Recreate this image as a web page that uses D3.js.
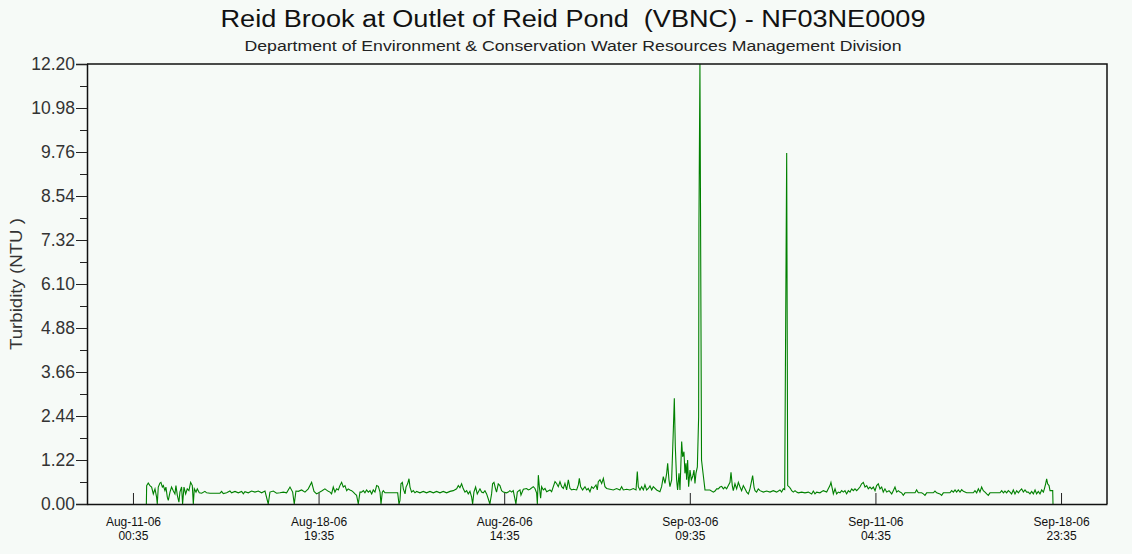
<!DOCTYPE html>
<html lang="en">

<head>
    <meta charset="UTF-8">
    <title>Reid Brook Turbidity</title>
    <script src="https://d3js.org/d3.v7.min.js"></script>
    <style>
    body {
        margin: 0;
        background: #f6faf7;
    }

    text {
        font-family: "Liberation Sans", Arial, sans-serif;
    }
    </style>
</head>

<body>
    <div class="content"></div>
    <script>
    // ---- data ----
    var title = "Reid Brook at Outlet of Reid Pond  (VBNC) - NF03NE0009";
    var subtitle = "Department of Environment & Conservation Water Resources Management Division";
    var yLabel = "Turbidity (NTU )";

    // y axis labelled every 1.22 NTU
    var yMajor = [0, 1.22, 2.44, 3.66, 4.88, 6.10, 7.32, 8.54, 9.76, 10.98, 12.20];
    var yMinor = [0.61, 1.83, 3.05, 4.27, 5.49, 6.71, 7.93, 9.15, 10.37, 11.59];

    var xTicks = ["2006-08-11 00:35", "2006-08-18 19:35", "2006-08-26 14:35",
        "2006-09-03 09:35", "2006-09-11 04:35", "2006-09-18 23:35"];

    // [hours after Aug-11-06 00:35, turbidity NTU]
    var readings = [
        [13.5, 0], [13.8, 0.51], [15.4, 0.58], [17.1, 0.51], [18.8, 0.47], [20.5, 0.28], [22.2, 0.42], [23.8, 0.19],
        [24.5, 0], [25.5, 0.47], [27.2, 0.58], [28.2, 0.60], [29.6, 0.47], [30.6, 0.51], [32.2, 0.37], [33.2, 0.47],
        [34.6, 0.19], [35.6, 0.10], [37.3, 0.33], [38.9, 0.47], [40.6, 0.37], [42.3, 0.28], [43.3, 0.51], [44.7, 0.24],
        [46.3, 0.05], [47.3, 0.33], [49.0, 0.47], [50.0, 0], [51.4, 0.47], [53.1, 0.28], [54.7, 0.42], [56.4, 0.37],
        [58.1, 0.60], [59.8, 0.51], [60.8, 0], [61.8, 0.42], [63.5, 0.33], [64.8, 0.42], [66.8, 0.31], [69.2, 0.30],
        [72.5, 0.35], [74.2, 0.31], [77.6, 0.30], [87.7, 0.30], [89.3, 0.35], [91.0, 0.29], [94.4, 0.31], [97.7, 0.36],
        [99.4, 0.31], [102.8, 0.35], [106.1, 0.31], [109.5, 0.35], [111.2, 0.28], [112.8, 0.34], [116.2, 0.31],
        [119.5, 0.36], [122.9, 0.33], [126.3, 0.36], [129.6, 0.31], [133.0, 0.36], [136.3, 0], [138.0, 0.33],
        [141.4, 0.36], [144.7, 0.30], [148.1, 0.31], [151.5, 0.33], [154.8, 0.31], [158.2, 0.47], [160.9, 0.33],
        [162.5, 0], [164.2, 0.36], [166.6, 0.35], [169.9, 0.39], [173.3, 0.33], [176.6, 0.42], [180.0, 0.60],
        [182.4, 0.35], [185.0, 0.28], [190.1, 0.36], [193.4, 0.42], [196.8, 0.35],

        [198.5, 0.33], [200.1, 0.28], [201.8, 0.47], [203.5, 0.33], [205.2, 0.42], [206.9, 0.39], [208.5, 0.51],
        [210.2, 0.60], [211.9, 0.47], [213.6, 0.51], [215.3, 0.37], [216.9, 0.42], [218.6, 0.39], [220.3, 0.37],
        [222.0, 0.33], [223.7, 0.28], [225.3, 0.24], [227.0, 0], [228.7, 0.33], [230.4, 0.33], [232.1, 0.37],
        [233.7, 0.31], [235.4, 0.39], [237.1, 0.33], [238.8, 0.37], [240.5, 0.28], [242.1, 0.39], [243.8, 0.33],
        [245.5, 0.51], [247.2, 0.49], [248.9, 0.33], [249.9, 0], [251.2, 0.33], [252.2, 0.37], [253.9, 0.31],
        [257.3, 0.31], [260.6, 0.31], [264.0, 0.31], [266.7, 0.31], [268.0, 0], [269.0, 0.10], [270.0, 0.56],
        [271.4, 0.60], [272.4, 0.42], [274.1, 0.28], [275.1, 0.47], [276.7, 0.56], [278.1, 0.70], [279.1, 0.47],
        [280.7, 0.33], [282.4, 0.37], [284.1, 0.31], [285.8, 0.35], [289.1, 0.31], [292.5, 0.35], [295.8, 0.31],
        [299.2, 0.35], [302.6, 0.31], [305.9, 0.35], [309.3, 0.31], [312.6, 0.35], [316.0, 0.31], [319.4, 0.35],
        [322.7, 0.37], [326.1, 0.42], [327.8, 0.51], [329.4, 0.45], [331.1, 0.56], [332.8, 0.42], [334.5, 0.33],
        [336.2, 0.37], [337.8, 0.28], [339.5, 0.35], [341.2, 0.19], [342.2, 0], [343.5, 0.33], [345.2, 0.47],
        [346.9, 0.28], [347.9, 0.33], [349.6, 0.42], [351.2, 0.33], [352.9, 0.31], [354.6, 0.37], [356.3, 0.28],
        [358.0, 0.14], [359.6, 0], [361.3, 0.28], [362.3, 0.56], [363.7, 0.60], [365.3, 0.42], [366.3, 0.33],
        [368.0, 0.56], [369.7, 0.51], [371.4, 0.37], [373.1, 0.33], [376.4, 0.31], [378.1, 0.33], [379.8, 0.37],
        [381.5, 0.33], [383.1, 0.37], [384.8, 0.14], [385.8, 0], [387.2, 0.33], [388.8, 0.37],

        [389.9, 0.39], [390.9, 0.25], [393.3, 0.41], [396.6, 0.43], [398.3, 0.39], [400.0, 0.41], [403.3, 0.48],
        [405.0, 0.43], [406.7, 0.30], [407.4, 0], [408.4, 0.80], [409.4, 0.48], [410.7, 0.16], [411.7, 0.48],
        [413.4, 0.39], [415.1, 0.43], [416.8, 0.34], [420.1, 0.39], [421.8, 0.34], [423.5, 0.48], [425.2, 0.62],
        [426.8, 0.57], [428.5, 0.48], [430.2, 0.62], [431.9, 0.48], [433.6, 0.43], [435.2, 0.57], [436.9, 0.39],
        [438.6, 0.67], [440.3, 0.43], [442.0, 0.39], [443.6, 0.41], [447.0, 0.39], [448.7, 0.53], [449.7, 0.71],
        [451.0, 0.48], [453.0, 0.39], [455.4, 0.48], [457.1, 0.39], [458.7, 0.43], [460.4, 0.34], [462.1, 0.48],
        [463.8, 0.43], [466.5, 0.53], [467.8, 0.39], [468.8, 0.62], [470.5, 0.67], [472.2, 0.57], [473.9, 0.71],
        [475.5, 0.48], [477.2, 0.43], [480.6, 0.41], [483.9, 0.39], [487.3, 0.43], [490.6, 0.39], [492.3, 0.48],
        [494.0, 0.39], [497.4, 0.41], [500.7, 0.39], [504.1, 0.43], [506.8, 0.39], [508.1, 0.90], [509.1, 0.48],
        [510.8, 0.39], [512.5, 0.48], [514.2, 0.39], [515.8, 0.53], [517.5, 0.39], [519.2, 0.43], [520.9, 0.50],
        [522.6, 0.39], [524.2, 0.48], [527.6, 0.39], [530.9, 0.34], [532.6, 0.48], [534.3, 0.76], [536.0, 0.57],
        [537.7, 0.85], [538.7, 1.13], [540.0, 0.67], [541.0, 0.48], [542.7, 0.67], [544.4, 2.05], [545.4, 2.93],
        [546.4, 1.59], [547.7, 0.67], [548.7, 0.39], [550.1, 0.85], [551.1, 0.39], [552.8, 1.73], [553.8, 1.31],
        [555.1, 1.45], [556.1, 0.85], [557.1, 1.13], [557.8, 0.67], [558.8, 1.22], [559.8, 0.48], [561.2, 0.94],
        [562.5, 0.67], [563.9, 0.76], [565.2, 0.94], [566.2, 0.57], [567.2, 0.85], [568.6, 1.03], [569.9, 2.42],
        [570.2, 7.73], [571.2, 12.2], [572.8, 1.22], [574.3, 0.86], [576.3, 0.39],

        [578.0, 0.39], [581.3, 0.39], [584.7, 0.33], [586.4, 0.36], [588.0, 0.42], [589.7, 0.42], [591.4, 0.47],
        [593.1, 0.49], [594.8, 0.42], [596.4, 0.47], [598.1, 0.42], [599.8, 0.51], [601.5, 0.60], [602.5, 0.88],
        [603.8, 0.51], [604.8, 0.37], [606.5, 0.56], [608.2, 0.42], [609.9, 0.60], [611.6, 0.47], [613.2, 0.37],
        [614.9, 0.51], [616.6, 0.42], [618.3, 0.33], [620.0, 0.28], [621.6, 0.42], [623.3, 0.65], [624.3, 0.79],
        [625.7, 0.47], [626.7, 0.37], [628.3, 0.33], [630.0, 0.42], [631.7, 0.37], [635.1, 0.33], [638.4, 0.36],
        [641.8, 0.33], [645.1, 0.37], [648.5, 0.33], [651.8, 0.39], [653.5, 0.33], [655.2, 0.42], [656.6, 0.40],
        [657.6, 5.10], [658.6, 9.73], [659.6, 0.51], [661.3, 0.47], [662.6, 0.42], [663.6, 0.37], [665.3, 0.33],
        [667.0, 0.37], [668.6, 0.33], [670.3, 0.31], [673.7, 0.33], [677.0, 0.31], [680.4, 0.33], [683.8, 0.28],
        [685.4, 0.36], [687.1, 0.28], [688.8, 0.33], [692.1, 0.31], [695.5, 0.37], [698.9, 0.33], [700.5, 0.42],
        [702.2, 0.51], [703.2, 0.60], [704.6, 0.42], [705.6, 0.28], [707.3, 0.42], [708.9, 0.28], [710.6, 0.33],
        [712.3, 0.31], [714.0, 0.37], [715.7, 0.33], [717.3, 0.37], [719.0, 0.28], [720.7, 0.37], [722.4, 0.33],
        [724.1, 0.42], [725.7, 0.37], [727.4, 0.42], [729.1, 0.37], [730.8, 0.42], [732.4, 0.47], [734.1, 0.56],
        [735.8, 0.60], [737.5, 0.47], [739.2, 0.51], [740.8, 0.42], [742.5, 0.47], [744.2, 0.42], [745.9, 0.47],
        [747.6, 0.37], [749.2, 0.51], [750.9, 0.56], [752.6, 0.42], [754.3, 0.47], [755.9, 0.33], [757.6, 0.42],
        [759.3, 0.33], [761.7, 0.37],

        [764.4, 0.28], [766.0, 0.37], [767.7, 0.47], [769.4, 0.33], [771.1, 0.37], [772.7, 0.33], [774.4, 0.31],
        [776.1, 0.24], [777.8, 0.31], [781.1, 0.31], [784.5, 0.31], [787.9, 0.31], [789.5, 0.39], [791.2, 0.31],
        [794.6, 0.31], [796.3, 0.28], [797.9, 0.24], [799.6, 0.31], [803.0, 0.31], [806.3, 0.31], [808.0, 0.36],
        [809.7, 0.31], [813.0, 0.28], [814.7, 0.24], [816.4, 0.31], [819.8, 0.31], [823.1, 0.31], [824.8, 0.37],
        [826.5, 0.33], [828.2, 0.39], [829.8, 0.33], [831.5, 0.39], [833.2, 0.33], [834.9, 0.40], [836.6, 0.35],
        [839.9, 0.31], [843.3, 0.31], [846.6, 0.31], [848.3, 0.37], [850.0, 0.31], [851.7, 0.42], [853.3, 0.33],
        [855.0, 0.47], [856.7, 0.37], [858.4, 0.33], [860.1, 0.28], [861.7, 0.24], [863.4, 0.31], [866.8, 0.31],
        [870.1, 0.31], [873.5, 0.31], [875.2, 0.37], [876.9, 0.31], [878.5, 0.36], [880.2, 0.31], [881.9, 0.37],
        [883.6, 0.33], [885.2, 0.28], [886.9, 0.39], [888.6, 0.28], [890.3, 0.37], [892.0, 0.31], [893.6, 0.37],
        [895.3, 0.42], [897.0, 0.33], [898.7, 0.39], [900.4, 0.33], [902.0, 0.33], [903.7, 0.28], [905.4, 0.35],
        [907.1, 0.28], [908.8, 0.39], [910.4, 0.28], [912.1, 0.35], [913.8, 0.28], [915.5, 0.39], [917.2, 0.33],
        [918.2, 0.42], [919.5, 0.56], [920.5, 0.70], [921.5, 0.56], [922.9, 0.51], [923.9, 0.37], [926.6, 0.37],
        [926.9, 0]
    ];

    // ---- layout ----
    var p = {
        width: 1132,
        height: 554,
        left: 87,
        right: 1107,
        top: 64,
        bottom: 504,
        padHours: 46.3,
        titleX: 573
    };

    var parseTime = d3.utcParse("%Y-%m-%d %H:%M");
    var tickDates = xTicks.map(parseTime);
    var t0 = tickDates[0].getTime();
    var hour = 3600000;

    var svg = d3.select(".content")
        .append("svg")
        .attr("width", p.width)
        .attr("height", p.height);

    svg.append("rect")
        .attr("width", p.width)
        .attr("height", p.height)
        .attr("fill", "#f6faf7");

    var x = d3.scaleUtc()
        .domain([new Date(t0 - p.padHours * hour),
            new Date(tickDates[tickDates.length - 1].getTime() + p.padHours * hour)])
        .range([p.left, p.right]);

    var y = d3.scaleLinear()
        .domain([0, 12.2])
        .range([p.bottom, p.top]);

    // titles (the source font is wider than Arial, so stretch to the measured widths)
    svg.append("text")
        .attr("x", p.titleX)
        .attr("y", 27)
        .attr("text-anchor", "middle")
        .attr("font-size", 23)
        .attr("textLength", 705)
        .attr("lengthAdjust", "spacingAndGlyphs")
        .attr("fill", "#111")
        .style("white-space", "pre")
        .text(title);

    svg.append("text")
        .attr("x", p.titleX)
        .attr("y", 51)
        .attr("text-anchor", "middle")
        .attr("font-size", 15.5)
        .attr("textLength", 657)
        .attr("lengthAdjust", "spacingAndGlyphs")
        .attr("fill", "#222")
        .text(subtitle);

    svg.append("text")
        .attr("transform", "translate(22," + (p.top + p.bottom) / 2 + ") rotate(-90)")
        .attr("text-anchor", "middle")
        .attr("font-size", 16.5)
        .attr("textLength", 132)
        .attr("lengthAdjust", "spacingAndGlyphs")
        .attr("fill", "#333")
        .text(yLabel);

    // data line
    var line = d3.line()
        .x(function(d) { return x(new Date(t0 + d[0] * hour)); })
        .y(function(d) { return y(d[1]); });

    svg.append("path")
        .datum(readings)
        .attr("fill", "none")
        .attr("stroke", "#008000")
        .attr("stroke-width", 1.1)
        .attr("d", line);

    // frame: top and right edges
    svg.append("path")
        .attr("d", "M" + p.left + "," + p.top + "H" + p.right + "V" + p.bottom)
        .attr("fill", "none")
        .attr("stroke", "#111")
        .attr("stroke-width", 1.5);

    // y axis, major + minor
    var yAxis = svg.append("g")
        .attr("transform", "translate(" + p.left + ",0)")
        .call(d3.axisLeft(y).tickValues(yMajor).tickSize(11).tickPadding(1).tickFormat(d3.format(".2f")));

    svg.append("g")
        .attr("transform", "translate(" + p.left + ",0)")
        .call(d3.axisLeft(y).tickValues(yMinor).tickSize(7).tickFormat(""))
        .select(".domain").remove();

    yAxis.selectAll("text")
        .attr("font-size", 17.5)
        .attr("font-family", "Liberation Sans, Arial, sans-serif")
        .attr("fill", "#333");

    // x axis: ticks point up into the plot, two-line labels
    var fmtDate = d3.utcFormat("%b-%d-%y");
    var fmtTime = d3.utcFormat("%H:%M");

    var xAxis = svg.append("g")
        .attr("transform", "translate(0," + p.bottom + ")")
        .call(d3.axisBottom(x).tickValues(tickDates).tickSize(-11).tickSizeOuter(0).tickFormat(""));

    xAxis.selectAll(".tick").append("text")
        .attr("y", 22)
        .attr("fill", "#111")
        .attr("font-size", 12)
        .text(function(d) { return fmtDate(d); });

    xAxis.selectAll(".tick").append("text")
        .attr("y", 36)
        .attr("fill", "#111")
        .attr("font-size", 12)
        .text(function(d) { return fmtTime(d); });

    svg.selectAll(".domain")
        .attr("stroke", "#111")
        .attr("stroke-width", 1.5);
    svg.selectAll(".tick line")
        .attr("stroke", "#222");
    </script>
</body>

</html>
